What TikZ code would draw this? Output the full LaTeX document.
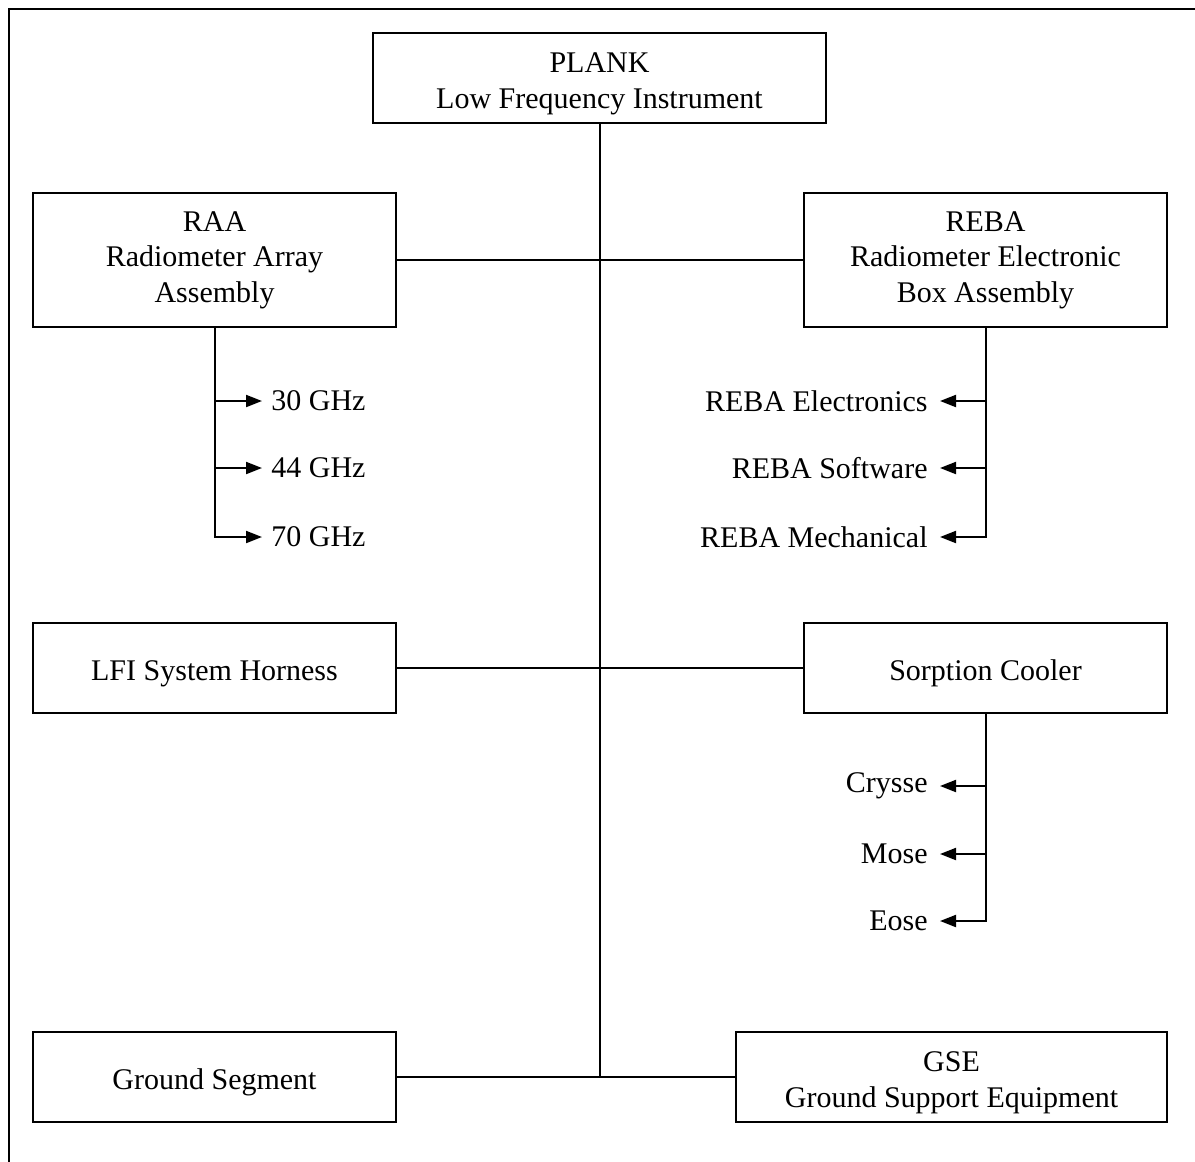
\documentclass[tikz,border=0pt]{standalone}
\usepackage{fontspec}
\setmainfont{Liberation Serif}
\usetikzlibrary{positioning}
\usetikzlibrary{arrows.meta}
\newcommand{\toplift}{\rule{0pt}{15.5pt}}
\tikzset{unit box/.style={draw,line width=1pt,align=center,inner sep=0pt,font=\fontsize{15}{17.8}\selectfont},}
\tikzset{wide box/.style={unit box,minimum width=181.5pt,minimum height=67pt},}
\tikzset{flat box/.style={unit box,minimum width=181.5pt,minimum height=45pt},}
\tikzset{part label/.style={inner sep=4.5pt,font=\fontsize{15}{18}\selectfont},}
\tikzset{branch/.style={line width=1pt,-{Triangle[length=8pt,width=6pt]}},}

\begin{document}
\begin{tikzpicture}[x=0.5pt,y=-0.5pt]
     \useasboundingbox (0,0) rectangle (1195,1162);
     \draw[line width=1.3pt] (9,1162) -- (9,9) -- (1195,9);

     \node[unit box,minimum width=226.5pt,minimum height=45pt] (plank) at (599.5,78) {\toplift PLANK\\Low Frequency Instrument};
     \node[wide box] (raa) at (214.5,260) {RAA\\Radiometer Array\\Assembly};
     \node[wide box] (reba) at (985.5,260) {REBA\\Radiometer Electronic\\Box Assembly};
     \node[flat box] (lfi) at (214.5,668) {\toplift LFI System Horness};
     \node[flat box] (sorp) at (985.5,668) {\toplift Sorption Cooler};
     \node[flat box] (gseg) at (214.5,1077) {\toplift Ground Segment};
     \node[unit box,minimum width=215.5pt,minimum height=45pt] (gse) at (951.5,1077) {\toplift GSE\\Ground Support Equipment};

     % frequency channels
     \node[part label,anchor=west] (g30) at (262,401) {30 GHz};
     \node[part label,anchor=west] (g44) at (262,468) {44 GHz};
     \node[part label,anchor=west] (g70) at (262,537) {70 GHz};

     % REBA parts
     \node[part label,anchor=east,inner sep=6pt] (relec) at (940,401) {REBA Electronics};
     \node[part label,anchor=east,inner sep=6pt] (rsoft) at (940,468) {REBA Software};
     \node[part label,anchor=east,inner sep=6pt] (rmech) at (940,537) {REBA Mechanical};

     % cooler parts
     \node[part label,anchor=east,inner sep=6pt] (crys) at (940,786) {Crysse};
     \node[part label,anchor=east,inner sep=6pt] (mose) at (940,854) {Mose};
     \node[part label,anchor=east,inner sep=6pt] (eose) at (940,921) {Eose};

     \path[line width=1pt]
     (plank.south) edge (plank.south |- gseg.east)
     (raa.east) edge (reba.west)
     (lfi.east) edge (sorp.west)
     (gseg.east) edge (gse.west);

     \draw[branch] (raa.south) |- (g70.west);
     \draw[branch] (raa.south |- g30.west) -- (g30.west);
     \draw[branch] (raa.south |- g44.west) -- (g44.west);
     \draw[branch] (reba.south) |- (rmech.east);
     \draw[branch] (reba.south |- relec.east) -- (relec.east);
     \draw[branch] (reba.south |- rsoft.east) -- (rsoft.east);
     \draw[branch] (sorp.south) |- (eose.east);
     \draw[branch] (sorp.south |- crys.east) -- (crys.east);
     \draw[branch] (sorp.south |- mose.east) -- (mose.east);
  \end{tikzpicture}
\end{document}
